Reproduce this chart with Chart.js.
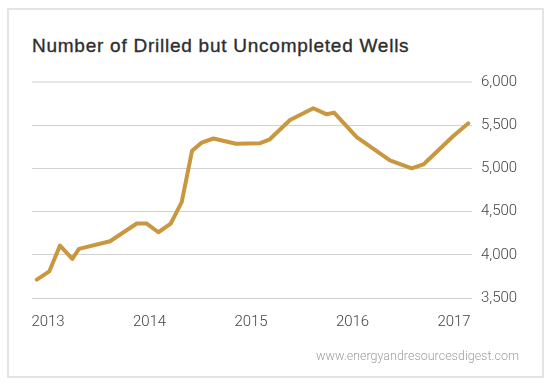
<!DOCTYPE html>
<html>
<head>
<meta charset="utf-8">
<script src="https://cdn.jsdelivr.net/npm/chart.js@4"></script>
<style>
    html, body { margin: 0; padding: 0; background: #fff; }
    #wrap { position: relative; width: 550px; height: 385px; overflow: hidden; }
    #frame {
        position: absolute; left: 7px; top: 8px; width: 537px; height: 370px;
        box-sizing: border-box; border: 2px solid #e4e4e4;
    }
    #title {
        position: absolute; left: 32px; top: 35px; margin: 0;
        font: 400 19px "Liberation Sans", Arial, sans-serif; color: #2e2e2e;
        letter-spacing: 0.75px;
        -webkit-text-stroke: 0.35px #2e2e2e;
        white-space: nowrap;
    }
    #source {
        position: absolute; right: 31px; top: 348px;
        font: 300 12.5px Roboto, "Liberation Sans", sans-serif; color: #a0a0a0;
    }
    #chart { position: absolute; left: 0; top: 0; }
</style>
</head>
<body>
<div id="wrap">
    <div id="frame"></div>
    <div id="title">Number of Drilled but Uncompleted Wells</div>
    <canvas id="chart" width="550" height="385"></canvas>
    <div id="source">www.energyandresourcesdigest.com</div>
</div>
<script>
// DUC well count (x in decimal years)
const pointYears = [2012.889, 2013.013, 2013.118, 2013.239, 2013.305, 2013.611, 2013.874, 2013.972,
    2014.087, 2014.209, 2014.317, 2014.419, 2014.514, 2014.629, 2014.852, 2015.089, 2015.180,
    2015.384, 2015.614, 2015.746, 2015.818, 2016.041, 2016.369, 2016.583, 2016.698, 2016.993, 2017.141];
const wellCounts = [3712, 3809, 4107, 3952, 4068, 4157, 4362, 4362,
    4261, 4362, 4609, 5205, 5298, 5346, 5286, 5292, 5332,
    5560, 5696, 5626, 5646, 5363, 5093, 5000, 5046, 5375, 5522];
const yearTicks = [2013, 2014, 2015, 2016, 2017];
const countTicks = [3500, 4000, 4500, 5000, 5500, 6000];

const gold = '#c8973f';
const tickFont = { family: 'Roboto, "Liberation Sans", sans-serif', size: 15, weight: 300 };

(function() {
    const points = pointYears.map((yr, i) => ({ x: yr, y: wellCounts[i] }));

    new Chart(document.getElementById('chart'), {
        type: 'line',
        data: {
            datasets: [{
                data: points,
                borderColor: gold,
                borderWidth: 4,
                borderJoinStyle: 'round',
                borderCapStyle: 'round',
                pointRadius: 0,
                tension: 0,
                fill: false
            }]
        },
        options: {
            responsive: false,
            animation: false,
            events: [],
            layout: { padding: { left: 32, top: 82, right: 0, bottom: 0 } },
            plugins: { legend: { display: false }, tooltip: { enabled: false } },
            scales: {
                x: {
                    type: 'linear',
                    min: 2012.842,
                    max: 2017.177,
                    afterBuildTicks: (scale) => { scale.ticks = yearTicks.map(v => ({ value: v })); },
                    afterFit: (scale) => { scale.height = 87; },
                    grid: { display: false, drawTicks: false },
                    border: { display: false },
                    ticks: {
                        padding: 15,
                        color: '#444',
                        font: tickFont,
                        maxRotation: 0,
                        callback: (v) => String(v)
                    }
                },
                y: {
                    position: 'right',
                    min: 3500,
                    max: 6000,
                    afterBuildTicks: (scale) => { scale.ticks = countTicks.map(v => ({ value: v })); },
                    afterFit: (scale) => { scale.width = 78; },
                    grid: {
                        drawTicks: false,
                        color: (ctx) => ctx.tick && ctx.tick.value === 6000 ? '#e6e6e6' : '#d2d2d2',
                        lineWidth: (ctx) => ctx.tick && ctx.tick.value === 6000 ? 2 : 1
                    },
                    border: { display: false },
                    ticks: {
                        padding: 9,
                        color: '#444',
                        font: tickFont,
                        callback: (v) => v.toLocaleString('en-US')
                    }
                }
            }
        }
    });
})();
</script>
</body>
</html>
